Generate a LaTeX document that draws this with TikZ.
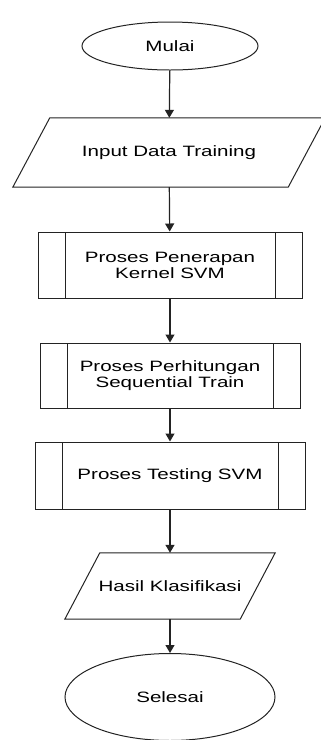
\documentclass[tikz,border=0pt]{standalone}
\usepackage{fontspec}
\setmainfont{Liberation Sans}[FakeStretch=1.37]
\usepackage{tikz}
\usetikzlibrary{positioning, arrows.meta, shapes.geometric}
\definecolor{ink}{RGB}{35,35,35}
\newcommand{\ioslant}[2]{\draw[ink, line width=1pt] ([xshift=#2]#1.north west) -- ([xshift=#2]#1.north east) -- ([xshift=-#2]#1.south east) -- ([xshift=-#2]#1.south west) -- cycle;}

\begin{document}
\begin{tikzpicture}[x=1pt, y=-1pt,
  txt/.style={font=\fontsize{15}{16}\selectfont, align=center, inner sep=0pt},
  term/.style={txt, draw=ink, line width=1pt, ellipse},
  io/.style={txt, rectangle},
  proc/.style={txt, draw=ink, line width=1pt, rectangle,
    path picture={\draw[ink, line width=1pt]
      ([xshift=27pt]path picture bounding box.north west) -- ([xshift=27pt]path picture bounding box.south west)
      ([xshift=-27pt]path picture bounding box.north east) -- ([xshift=-27pt]path picture bounding box.south east);}},
  flow/.style={-{Triangle[width=9pt, length=8pt]}, ink, line width=1.2pt}]
\useasboundingbox (0,0) rectangle (321,740);
\node[term, minimum width=176pt, minimum height=48pt] (mulai) at (170,46) {Mulai};
\node[io, minimum width=275pt, minimum height=69pt] (input) at (169,152.5) {Input Data Training};
\ioslant{input}{18.5pt}
\node[proc, minimum width=264pt, minimum height=66pt] (kernel) at (170,265) {Proses Penerapan\\Kernel SVM};
\node[proc, minimum width=260pt, minimum height=65pt] (seq) at (170,375.5) {Proses Perhitungan\\Sequential Train};
\node[proc, minimum width=270pt, minimum height=67pt] (testing) at (170,475.5) {Proses Testing SVM};
\node[io, minimum width=175pt, minimum height=66pt] (hasil) at (170,586) {Hasil Klasifikasi};
\ioslant{hasil}{17.5pt}
\node[term, minimum width=210pt, minimum height=87pt] (selesai) at (170,697) {Selesai};
\draw[flow] (mulai) -- (input);
\draw[flow] (input) -- (kernel);
\draw[flow] (kernel) -- (seq);
\draw[flow] (seq) -- (testing);
\draw[flow] (testing) -- (hasil);
\draw[flow] (hasil) -- (selesai);
\end{tikzpicture}
\end{document}
